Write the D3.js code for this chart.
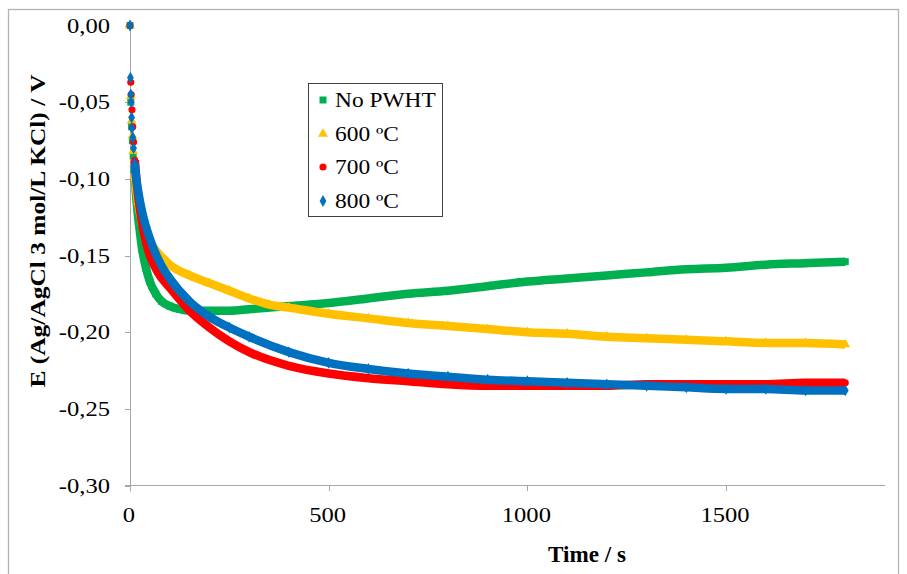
<!DOCTYPE html>
<html>
<head>
<meta charset="utf-8">
<script src="https://cdn.jsdelivr.net/npm/d3@7"></script>
<style>
  body { margin: 0; background: #fff; }
  svg { display: block; }
</style>
</head>
<body>
<div id="chart"></div>
<script>
// time (s) and potential (V), one pair of arrays per sample
var noPwhtT = [0,2,4,6,8,10,12,15,20,25,30,40,50,65,80,100,125,150,200,250,300,350,400,500,600,700,800,900,1000,1100,1200,1300,1400,1500,1600,1700,1800];
var noPwhtE = [0,-0.050,-0.066,-0.075,-0.085,-0.094,-0.100,-0.110,-0.124,-0.135,-0.145,-0.158,-0.167,-0.175,-0.180,-0.183,-0.185,-0.186,-0.186,-0.186,-0.185,-0.184,-0.183,-0.181,-0.178,-0.175,-0.173,-0.170,-0.167,-0.165,-0.163,-0.161,-0.159,-0.158,-0.156,-0.155,-0.154];

var t600T = [0,2,4,6,8,10,12,15,20,30,40,50,60,80,100,150,200,250,300,350,400,500,600,700,800,900,1000,1100,1200,1300,1400,1500,1600,1700,1800];
var t600E = [0,-0.046,-0.062,-0.072,-0.082,-0.090,-0.097,-0.105,-0.115,-0.128,-0.136,-0.141,-0.145,-0.151,-0.156,-0.163,-0.168,-0.173,-0.178,-0.182,-0.184,-0.188,-0.191,-0.194,-0.196,-0.198,-0.200,-0.201,-0.203,-0.204,-0.205,-0.206,-0.207,-0.207,-0.208];

var t700T = [0,2,3,5,7,9,12,16,20,30,40,50,70,100,150,200,250,300,400,500,600,700,800,900,1000,1100,1200,1300,1400,1500,1600,1700,1800];
var t700E = [0,-0.037,-0.045,-0.055,-0.066,-0.076,-0.088,-0.100,-0.110,-0.128,-0.141,-0.150,-0.161,-0.171,-0.186,-0.197,-0.206,-0.213,-0.222,-0.227,-0.230,-0.232,-0.234,-0.235,-0.235,-0.235,-0.235,-0.234,-0.234,-0.234,-0.234,-0.233,-0.233];

var t800T = [0,1,2,3,4,5,7,9,12,16,20,30,40,50,60,80,100,150,200,250,300,400,500,600,700,800,900,1000,1100,1200,1300,1400,1500,1600,1700,1800];
var t800E = [0,-0.034,-0.045,-0.050,-0.060,-0.067,-0.073,-0.080,-0.090,-0.100,-0.107,-0.121,-0.131,-0.139,-0.146,-0.157,-0.165,-0.180,-0.190,-0.197,-0.203,-0.213,-0.220,-0.224,-0.227,-0.229,-0.231,-0.232,-0.233,-0.234,-0.235,-0.236,-0.237,-0.237,-0.238,-0.238];

var seriesNames = ["No PWHT", "600 ºC", "700 ºC", "800 ºC"];
var xTicks = [0, 500, 1000, 1500];
var yTicks = [0, -0.05, -0.10, -0.15, -0.20, -0.25, -0.30];

var series = [
  {name: seriesNames[0], t: noPwhtT, e: noPwhtE, color: "#00b050", shape: d3.symbolSquare, size: 49},
  {name: seriesNames[1], t: t600T, e: t600E, color: "#ffc000", shape: d3.symbolTriangle, size: 42},
  {name: seriesNames[2], t: t700T, e: t700E, color: "#ff0000", shape: d3.symbolCircle, size: 40},
  {name: seriesNames[3], t: t800T, e: t800E, color: "#0070c0", shape: d3.symbolDiamond, size: 40}
];

var width = 907,
    height = 574;
var serif = "'Liberation Serif', 'DejaVu Serif', 'Times New Roman', serif";

var svg = d3.select("#chart").append("svg")
    .attr("width", width)
    .attr("height", height)
    .attr("font-family", serif);

// outer chart frame
svg.append("rect")
    .attr("x", 8.5).attr("y", 9.5)
    .attr("width", 890).attr("height", 580)
    .attr("fill", "none")
    .attr("stroke", "#b3b3b3")
    .attr("stroke-width", 1.3);

var x = d3.scaleLinear().domain([0, 1900]).range([130, 885]);
var y = d3.scaleLinear().domain([0, -0.30]).range([25.5, 485.5]);

var loc = d3.formatLocale({decimal: ",", thousands: ".", grouping: [3], currency: ["", ""], minus: "-"});
var fmtY = loc.format(".2f");

// widen text a bit, the source image is stretched sideways
function stretch(sel, k) {
  sel.each(function() {
    var w = this.getComputedTextLength();
    d3.select(this).attr("textLength", w * k).attr("lengthAdjust", "spacingAndGlyphs");
  });
}

var axisColor = "#a6a6a6";

// y axis
svg.append("line")
    .attr("x1", 130.5).attr("x2", 130.5)
    .attr("y1", y(0)).attr("y2", y(-0.30) + 6)
    .attr("stroke", axisColor);
svg.selectAll(".ytick")
  .data(yTicks)
  .enter().append("line")
    .attr("x1", 125).attr("x2", 130)
    .attr("y1", function(d) { return Math.round(y(d)) + 0.5; })
    .attr("y2", function(d) { return Math.round(y(d)) + 0.5; })
    .attr("stroke", axisColor);
svg.selectAll(".ylab")
  .data(yTicks)
  .enter().append("text")
    .attr("x", 110)
    .attr("y", function(d) { return y(d) + 7; })
    .attr("text-anchor", "end")
    .attr("font-family", serif)
    .style("font-size", "21px")
    .text(function(d) { return fmtY(d); })
    .call(stretch, 1.17);

// x axis
svg.append("line")
    .attr("x1", 125).attr("x2", 885)
    .attr("y1", 485.5).attr("y2", 485.5)
    .attr("stroke", axisColor);
svg.selectAll(".xtick")
  .data(xTicks)
  .enter().append("line")
    .attr("x1", function(d) { return Math.round(x(d)) + 0.5; })
    .attr("x2", function(d) { return Math.round(x(d)) + 0.5; })
    .attr("y1", 485).attr("y2", 491)
    .attr("stroke", axisColor);
svg.selectAll(".xlab")
  .data(xTicks)
  .enter().append("text")
    .attr("x", function(d) { return x(d) - 1; })
    .attr("y", 522)
    .attr("text-anchor", "middle")
    .attr("font-family", serif)
    .style("font-size", "21px")
    .text(function(d) { return d; })
    .call(stretch, 1.17);

// axis titles
svg.append("text")
    .attr("x", 587).attr("y", 562)
    .attr("text-anchor", "middle")
    .attr("font-family", serif)
    .style("font-size", "24px")
    .style("font-weight", "bold")
    .attr("textLength", 78)
    .attr("lengthAdjust", "spacingAndGlyphs")
    .text("Time / s");

svg.append("text")
    .attr("transform", "translate(45,231) rotate(-90)")
    .attr("text-anchor", "middle")
    .attr("font-family", serif)
    .style("font-size", "21px")
    .style("font-weight", "bold")
    .attr("textLength", 313)
    .attr("lengthAdjust", "spacingAndGlyphs")
    .text("E (Ag/AgCl 3 mol/L KCl) / V");

// curves: thick band where samples are dense, separate markers at start
var line = d3.line()
    .x(function(d) { return x(d[0]); })
    .y(function(d) { return y(d[1]); })
    .curve(d3.curveMonotoneX);

var denseFrom = 12;

series.forEach(function(s) {
  var pts = s.t.map(function(t, i) { return [t, s.e[i]]; });
  svg.append("path")
      .datum(pts.filter(function(p) { return p[0] >= denseFrom; }))
      .attr("d", line)
      .attr("fill", "none")
      .attr("stroke", s.color)
      .attr("stroke-width", 8.5);
  svg.selectAll(null)
    .data(pts)
    .enter().append("path")
      .attr("transform", function(d) { return "translate(" + x(d[0]) + "," + y(d[1]) + ")"; })
      .attr("d", d3.symbol().type(s.shape).size(s.size))
      .attr("fill", s.color);
});

// legend
var legend = svg.append("g");
legend.append("rect")
    .attr("x", 308.5).attr("y", 83.5)
    .attr("width", 134).attr("height", 133)
    .attr("fill", "#fff")
    .attr("stroke", "#404040");

var legendY = [107, 141, 174, 208];
series.forEach(function(s, i) {
  legend.append("path")
      .attr("transform", "translate(323," + (legendY[i] - 7) + ")")
      .attr("d", d3.symbol().type(s.shape).size(s.size))
      .attr("fill", s.color);
  legend.append("text")
      .attr("x", 335).attr("y", legendY[i])
      .attr("font-family", serif)
      .style("font-size", "20px")
      .text(s.name)
      .call(stretch, 1.17);
});
</script>
</body>
</html>
